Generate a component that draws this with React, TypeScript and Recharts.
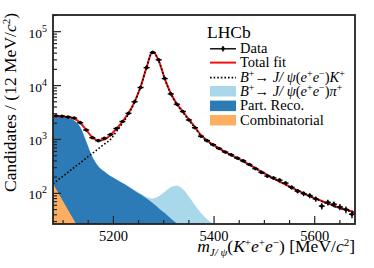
import { ComposedChart, Area, Line, Scatter, ErrorBar, XAxis, YAxis } from 'recharts';

// B+ -> J/psi(e+e-)K+ mass fit, log scale, LHCb style

const SERIF = '"Liberation Serif", "DejaVu Serif", serif';

// 50 bins of 12 MeV between 5080 and 5680
const binCenters = Array.from({ length: 50 }, (_, i) => 5086 + 12 * i);
const candidates = [
  2750, 2700, 2600, 2500, 2050, 1500, 1080, 950, 1050, 1230,
  1600, 2150, 3050, 5000, 9200, 21500, 41000, 30000, 13500, 7000,
  4500, 3300, 2300, 1650, 1150, 950, 800, 680, 585, 520,
  452, 400, 343, 288, 245, 209, 193, 176, 155, 129,
  110, 99, 91, 79, 58, 68, 63, 56, 50, 41,
];

// fit curves: sampled at the range edges and at the bin centres
const fitMass = [5080, ...binCenters, 5680];
const totalFit = [
  2700, 2700, 2680, 2620, 2450, 2050, 1500, 1100, 960, 1000, 1200,
  1580, 2150, 3100, 5000, 9500, 22000, 43000, 29000, 13500, 7200,
  4600, 3300, 2350, 1700, 1200, 960, 800, 685, 590, 515,
  450, 395, 342, 294, 252, 218, 190, 166, 146, 128,
  113, 100, 89, 80, 72, 65, 59, 54, 50, 46, 44,
];
const sigKaon = [
  150, 166, 202, 247, 302, 368, 450, 550, 671, 819, 1000,
  1400, 1990, 2960, 4880, 9400, 21900, 42900, 28900, 13400, 7080,
  4470, 3190, 2270, 1650, 1165, 935, 780, 670, 580, 508,
  445, 391, 339, 292, 250, 216, 188, 165, 145, 127,
  112, 99, 88, 79, 71, 64, 58, 53, 49, 45, 43.5,
];
// stacked boundaries of the filled components
const piStack = [
  2600, 2600, 2600, 2530, 2250, 1700, 920, 480, 320, 255, 210,
  180, 155, 135, 116, 99, 86, 80, 88, 107, 130,
  138, 120, 87, 60, 43, 33, 27.5, 22, 16, 11,
  8, 6, 4, 3, 2.5, 2, 1.8, 1.6, 1.4, 1.3,
  1.2, 1.1, 1, 1, 1, 1, 1, 1, 1, 1, 1,
];
const partRecoStack = [
  2600, 2600, 2600, 2530, 2250, 1700, 920, 480, 320, 255, 210,
  180, 155, 132, 112, 95, 80, 66, 53, 43, 34,
  27.5, 21, 16, 12, 9, 7, 5, 4, 3, 3,
  2, 2, 2, 1.8, 1.6, 1.4, 1.3, 1.2, 1.1, 1,
  1, 1, 1, 1, 1, 1, 1, 1, 1, 1, 1,
];
const combinatorial = [
  150, 120, 77, 49, 31.5, 20, 13, 8, 5, 3.5, 2.2,
  1.5, 1.2, 1, 1, 1, 1, 1, 1, 1, 1,
  1, 1, 1, 1, 1, 1, 1, 1, 1, 1,
  1, 1, 1, 1, 1, 1, 1, 1, 1, 1,
  1, 1, 1, 1, 1, 1, 1, 1, 1, 1, 1,
];

const xTicks = [5100, 5150, 5200, 5250, 5300, 5350, 5400, 5450, 5500, 5550, 5600, 5650];
const xLabels = [5200, 5400, 5600];
const yTicks = [
  30, 40, 50, 60, 70, 80, 90,
  100, 200, 300, 400, 500, 600, 700, 800, 900,
  1000, 2000, 3000, 4000, 5000, 6000, 7000, 8000, 9000,
  10000, 20000, 30000, 40000, 50000, 60000, 70000, 80000, 90000,
  100000, 200000,
];
const yLabels: Record<number, string> = { 100: '2', 1000: '3', 10000: '4', 100000: '5' };

const dataRows = binCenters.map((m, i) => ({
  m, n: candidates[i], ex: 6, ey: Math.sqrt(candidates[i]),
}));
const fitRows = fitMass.map((m, i) => ({
  m,
  total: totalFit[i],
  sig: sigKaon[i],
  pi: piStack[i],
  reco: partRecoStack[i],
  comb: combinatorial[i],
}));

const W = 374;
const H = 268;
const LEFT = 53;
const TOP = 15;
const RIGHT = 355;
const BOTTOM = 224;

const C_PI = '#a8d8ea';
const C_RECO = '#2c7bb6';
const C_COMB = '#fdae61';
const C_FIT = '#ee1111';

function XTick({ x, payload }: any) {
  const major = xLabels.includes(payload.value);
  return (
    <g>
      <line x1={x} x2={x} y1={BOTTOM} y2={BOTTOM - (major ? 8 : 4)} stroke="#222" strokeWidth={1.2} />
      {major && (
        <text x={x} y={241} textAnchor="middle" fontFamily={SERIF} fontSize={14.5} fill="#000">
          {payload.value}
        </text>
      )}
    </g>
  );
}

function YTick({ y, payload }: any) {
  const exp = yLabels[payload.value];
  return (
    <g>
      <line x1={LEFT} x2={LEFT + (exp ? 8 : 4)} y1={y} y2={y} stroke="#222" strokeWidth={1.2} />
      {exp && (
        <text x={47} y={y + 6} textAnchor="end" fontFamily={SERIF} fontSize={13.5} fill="#000">
          10<tspan dy={-6} fontSize={10}>{exp}</tspan>
        </text>
      )}
    </g>
  );
}

function Overlay() {
  const sup = { fontSize: 10 };
  return (
    <svg width={W} height={H} style={{ position: 'absolute', left: 0, top: 0, pointerEvents: 'none' }}>
      <rect x={LEFT} y={TOP} width={RIGHT - LEFT} height={BOTTOM - TOP} fill="none" stroke="#222" strokeWidth={1.8} />

      <g fontFamily={SERIF} fill="#000" fontSize={14.5}>
        <text x={207} y={38.3} fontSize={17.5}>LHCb</text>

        {/* Data */}
        <line x1={210} x2={236} y1={48.8} y2={48.8} stroke="#000" strokeWidth={1.4} />
        <line x1={223} x2={223} y1={46} y2={51.6} stroke="#000" strokeWidth={1.4} />
        <circle cx={223} cy={48.8} r={1.8} fill="#000" />
        <text x={240} y={53}>Data</text>

        {/* Total fit */}
        <line x1={210} x2={236} y1={62.6} y2={62.6} stroke={C_FIT} strokeWidth={2} />
        <text x={240} y={67.3}>Total fit</text>

        {/* K+ signal */}
        <line x1={210} x2={236} y1={77.6} y2={77.6} stroke="#000" strokeWidth={1.6} strokeDasharray="1.6 2" />
        <text x={240} y={81.6}>
          <tspan fontStyle="italic">B</tspan>
          <tspan dy={-5} {...sup}>+</tspan>
          <tspan dy={5}>{'\u2192 '}</tspan>
          <tspan fontStyle="italic">{'J/ \u03c8'}</tspan>
          <tspan>(</tspan>
          <tspan fontStyle="italic">e</tspan>
          <tspan dy={-5} {...sup}>+</tspan>
          <tspan dy={5} fontStyle="italic">e</tspan>
          <tspan dy={-5} {...sup}>{'\u2212'}</tspan>
          <tspan dy={5}>)</tspan>
          <tspan fontStyle="italic">K</tspan>
          <tspan dy={-5} {...sup}>+</tspan>
        </text>

        {/* pi+ misid */}
        <rect x={210} y={86} width={26} height={10.5} fill={C_PI} />
        <text x={240} y={96}>
          <tspan fontStyle="italic">B</tspan>
          <tspan dy={-5} {...sup}>+</tspan>
          <tspan dy={5}>{'\u2192 '}</tspan>
          <tspan fontStyle="italic">{'J/ \u03c8'}</tspan>
          <tspan>(</tspan>
          <tspan fontStyle="italic">e</tspan>
          <tspan dy={-5} {...sup}>+</tspan>
          <tspan dy={5} fontStyle="italic">e</tspan>
          <tspan dy={-5} {...sup}>{'\u2212'}</tspan>
          <tspan dy={5}>)</tspan>
          <tspan fontStyle="italic">{'\u03c0'}</tspan>
          <tspan dy={-5} {...sup}>+</tspan>
        </text>

        <rect x={210} y={100.6} width={26} height={10.5} fill={C_RECO} />
        <text x={240} y={110.3}>Part. Reco.</text>

        <rect x={210} y={115} width={26} height={10.5} fill={C_COMB} />
        <text x={240} y={124.6}>Combinatorial</text>
      </g>

      {/* x axis title */}
      <text x={355} y={252} textAnchor="end" fontFamily={SERIF} fontSize={17.5} fill="#000">
        <tspan fontStyle="italic">m</tspan>
        <tspan dy={4} fontSize={11} fontStyle="italic">{'J/ \u03c8'}</tspan>
        <tspan dy={-4}>(</tspan>
        <tspan fontStyle="italic">K</tspan>
        <tspan dy={-6} fontSize={11}>+</tspan>
        <tspan dy={6} fontStyle="italic">e</tspan>
        <tspan dy={-6} fontSize={11}>+</tspan>
        <tspan dy={6} fontStyle="italic">e</tspan>
        <tspan dy={-6} fontSize={11}>{'\u2212'}</tspan>
        <tspan dy={6}>{') [MeV/'}</tspan>
        <tspan fontStyle="italic">c</tspan>
        <tspan dy={-6} fontSize={11}>2</tspan>
        <tspan dy={6}>]</tspan>
      </text>

      {/* y axis title */}
      <text
        x={15.5}
        y={13}
        transform="rotate(-90, 15.5, 13)"
        textAnchor="end"
        fontFamily={SERIF}
        fontSize={17.5}
        fill="#000"
      >
        <tspan>{'Candidates / (12 MeV/'}</tspan>
        <tspan fontStyle="italic">c</tspan>
        <tspan dy={-6} fontSize={11}>2</tspan>
        <tspan dy={6}>)</tspan>
      </text>
    </svg>
  );
}

export default function App() {
  return (
    <div style={{ position: 'absolute', left: 0, top: 0, width: W, height: H, background: '#fff' }}>
      <ComposedChart
        width={W}
        height={H}
        margin={{ top: TOP, right: W - RIGHT, bottom: 14, left: 0 }}
      >
        <XAxis
          type="number"
          dataKey="m"
          domain={[5080, 5680]}
          ticks={xTicks}
          interval={0}
          allowDataOverflow
          axisLine={false}
          tickLine={false}
          height={30}
          tick={<XTick />}
        />
        <YAxis
          type="number"
          dataKey="n"
          scale="log"
          domain={[27, 204000]}
          ticks={yTicks}
          interval={0}
          allowDataOverflow
          axisLine={false}
          tickLine={false}
          width={LEFT}
          tick={<YTick />}
        />
        <Area data={fitRows} dataKey="pi" type="monotone" stroke="none" fill={C_PI} fillOpacity={1} baseValue={27} isAnimationActive={false} />
        <Area data={fitRows} dataKey="reco" type="monotone" stroke="none" fill={C_RECO} fillOpacity={1} baseValue={27} isAnimationActive={false} />
        <Area data={fitRows} dataKey="comb" type="monotone" stroke="none" fill={C_COMB} fillOpacity={1} baseValue={27} isAnimationActive={false} />
        <Line data={fitRows} dataKey="total" type="monotone" stroke={C_FIT} strokeWidth={2} dot={false} activeDot={false} isAnimationActive={false} />
        <Line data={fitRows} dataKey="sig" type="monotone" stroke="#000" strokeWidth={1.6} strokeDasharray="1.6 2" dot={false} activeDot={false} isAnimationActive={false} />
        <Scatter
          data={dataRows}
          dataKey="n"
          fill="#000"
          isAnimationActive={false}
          shape={(p: any) => <circle cx={p.cx} cy={p.cy} r={1.8} fill="#000" />}
        >
          <ErrorBar dataKey="ey" direction="y" width={0} stroke="#000" strokeWidth={1.4} />
          <ErrorBar dataKey="ex" direction="x" width={0} stroke="#000" strokeWidth={1.4} />
        </Scatter>
      </ComposedChart>
      <Overlay />
    </div>
  );
}
